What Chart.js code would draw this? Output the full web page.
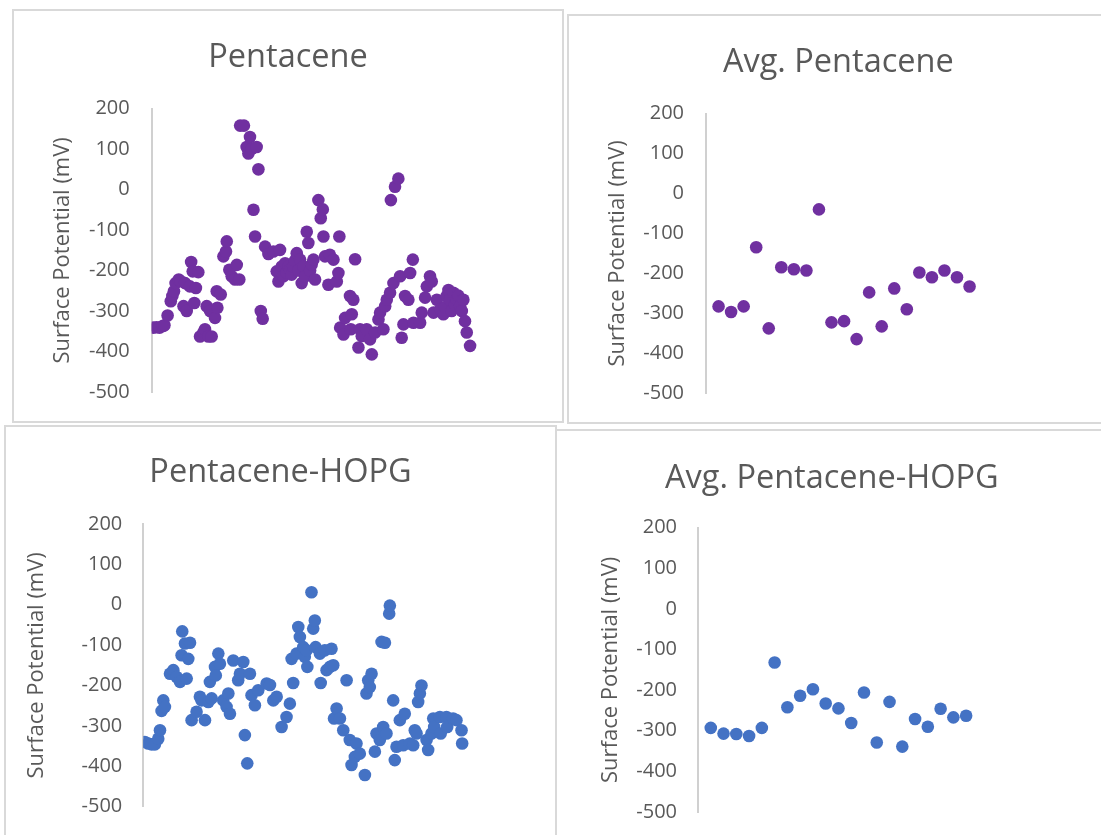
<!DOCTYPE html>
<html>
<head>
<meta charset="utf-8">
<script src="https://cdn.jsdelivr.net/npm/chart.js@4.4.1/dist/chart.umd.min.js"></script>
<style>
    body { margin: 0; background: #fff; width: 1101px; height: 835px; overflow: hidden; position: relative; }
    .panel { position: absolute; border: 2px solid #d9d9d9; background: #fff; }
    .panel canvas { display: block; }
</style>
</head>
<body>
<div class="panel" style="left:12px; top:9px;"><canvas id="c1" width="548" height="410"></canvas></div>
<div class="panel" style="left:567px; top:14px;"><canvas id="c2" width="539" height="406"></canvas></div>
<div class="panel" style="left:4px; top:425px;"><canvas id="c3" width="549" height="410"></canvas></div>
<div class="panel" style="left:555px; top:429px;"><canvas id="c4" width="552" height="410"></canvas></div>
<script>
// Pentacene (全測定点)
const pentX = [1, 3, 5, 7, 8, 10, 12, 13, 14, 15, 17, 18, 20, 21, 22, 24, 24.8, 25.8, 26.8, 27.8, 29.3, 30.4, 32.5, 33.5, 34.6, 35.6, 36.7, 37.7, 39.8, 40.9, 41.3, 43.4, 45.1, 46.7, 47.2, 48.8, 50.3, 52.4, 53.5, 55.1, 55.6, 58.0, 59.7, 60.8, 61.8, 62.9, 64.0, 65.0, 66.0, 67.1, 68.6, 69.8, 71.3, 73.4, 76.5, 78.6, 79.7, 80.7, 81.8, 82.8, 83.9, 84.9, 86.0, 87.0, 88.0, 89.0, 90.1, 91.2, 92.2, 93.3, 94.3, 95.4, 96.4, 97.5, 98.5, 99.6, 100.6, 101.7, 102.7, 104.8, 106.3, 107.6, 108.0, 109.0, 111.1, 112.0, 114.3, 116.4, 117.4, 118.0, 118.5, 120.6, 121.6, 124.7, 125.2, 125.8, 126.8, 127.9, 130.0, 131.0, 132.1, 135.2, 137.3, 138.4, 140.5, 142.6, 143.6, 145.7, 146.8, 147.8, 149.9, 150.4, 152.0, 153.0, 155.1, 156.2, 157.2, 158.3, 159.3, 161.4, 162.5, 164.2, 164.6, 168.8, 169.8, 171.9, 173.0, 175.0, 176.1, 177.2, 179.3, 181.4, 183.4, 184.5, 185.5, 186.6, 187.6, 188.6, 189.7, 190.7, 191.8, 192.8, 193.9, 195.0, 196.0, 197.0, 198.1, 200.2];
const pentY = [-341, -340, -341, -337, -335, -311, -276, -263, -251, -231, -222, -226, -288, -231, -300, -239, -179, -202, -280, -243, -204, -363, -353, -345, -288, -363, -300, -363, -317, -251, -292, -259, -165, -153, -128, -198, -214, -222, -186, -222, 158, 158, 105, 89, 130, 101, -50, -116, 105, 50, -300, -319, -141, -159, -153, -202, -227, -149, -190, -214, -182, -205, -190, -198, -210, -190, -175, -157, -200, -173, -231, -190, -215, -104, -132, -200, -185, -173, -222, -26, -71, -49, -116, -165, -235, -161, -173, -227, -206, -116, -341, -358, -317, -263, -345, -308, -272, -172, -390, -345, -362, -345, -370, -407, -353, -321, -304, -345, -288, -272, -255, -26, -231, 7, 27, -214, -366, -333, -263, -272, -206, -173, -329, -329, -304, -267, -239, -214, -227, -304, -272, -296, -308, -290, -263, -248, -272, -300, -255, -285, -272, -262, -288, -300, -272, -325, -353, -386];

// Pentacene-HOPG (全測定点)
const hopgX = [1.0, 3.1, 5.2, 7.3, 9.4, 10.5, 11.5, 12.6, 13.6, 16.8, 18.9, 21.0, 23.1, 24.1, 24.5, 26.2, 27.3, 28.3, 29.4, 30.4, 33.5, 35.6, 36.7, 38.8, 40.9, 41.9, 43.0, 45.1, 45.6, 47.2, 48.2, 50.3, 52.4, 53.5, 54.5, 56.6, 59.7, 60.8, 62.9, 63.9, 65.4, 67.1, 68.1, 70.2, 72.3, 77.6, 79.7, 81.8, 83.9, 87.0, 90.1, 92.2, 93.3, 94.3, 96.4, 97.5, 98.5, 100.6, 101.6, 102.7, 103.2, 105.8, 106.9, 107.9, 108.4, 111.1, 111.6, 114.2, 115.3, 117.4, 118.4, 119.5, 120.0, 121.6, 123.7, 125.8, 127.9, 129.9, 131.0, 133.1, 134.1, 136.2, 139.4, 140.4, 141.5, 142.5, 143.6, 145.7, 146.7, 148.8, 149.9, 150.9, 152.0, 153.0, 154.7, 155.1, 157.2, 158.2, 159.3, 161.4, 163.5, 164.5, 167.7, 169.8, 170.8, 171.9, 172.9, 174.0, 175.0, 178.2, 179.2, 181.3, 182.4, 183.0, 186.6, 187.1, 190.7, 191.2, 194.9, 197.0, 200.2, 200.6];
const hopgY = [-340, -344, -346, -346, -332, -311, -263, -237, -253, -171, -162, -179, -191, -125, -66, -96, -183, -134, -94, -286, -265, -228, -237, -286, -241, -191, -232, -154, -175, -121, -146, -237, -253, -220, -270, -138, -187, -171, -142, -323, -393, -171, -224, -249, -212, -195, -199, -237, -228, -303, -278, -245, -134, -194, -121, -55, -80, -105, -129, -113, -154, 31, -59, -39, -105, -121, -194, -113, -162, -154, -109, -150, -282, -257, -282, -311, -187, -335, -397, -377, -344, -369, -422, -220, -187, -204, -171, -364, -319, -335, -92, -303, -94, -319, -22, -2, -237, -385, -352, -286, -348, -270, -344, -348, -311, -319, -241, -220, -200, -335, -360, -319, -282, -303, -278, -319, -278, -303, -282, -286, -311, -344];

// 平均値 (21区間)
const avgIdx = [1, 2, 3, 4, 5, 6, 7, 8, 9, 10, 11, 12, 13, 14, 15, 16, 17, 18, 19, 20, 21];
const avgPentY = [-283, -297, -283, -135, -338, -185, -190, -193, -40, -323, -320, -365, -248, -333, -238, -290, -198, -210, -193, -210, -233];
const avgHopgY = [-293, -307, -308, -313, -293, -132, -242, -214, -198, -233, -245, -281, -206, -329, -229, -339, -271, -290, -246, -267, -263];

const yTicks = { min: -500, max: 200, step: 100 };
const FONT = "'Open Sans', 'Noto Sans', sans-serif";
const TEXT = '#595959';
const PURPLE = '#7030A0';
const BLUE = '#4472C4';

function toPoints(xs, ys) {
    return xs.map((x, i) => ({ x: x, y: ys[i] }));
}

function makeChart(id, cfg) {
    const ctx = document.getElementById(id).getContext('2d');
    return new Chart(ctx, {
        type: 'scatter',
        data: {
            datasets: [{
                data: cfg.points,
                backgroundColor: cfg.color,
                borderWidth: 0,
                pointRadius: 6.3,
                pointHoverRadius: 6.3
            }]
        },
        options: {
            responsive: false,
            animation: false,
            events: [],
            layout: {
                autoPadding: false,
                padding: { left: 0, top: 0, right: cfg.padRight, bottom: cfg.padBottom }
            },
            plugins: {
                legend: { display: false },
                tooltip: { enabled: false },
                title: {
                    display: true,
                    text: cfg.title,
                    color: TEXT,
                    font: { family: FONT, size: 32.5, weight: 'normal' },
                    padding: { top: cfg.titleTop, bottom: cfg.titleBottom }
                }
            },
            scales: {
                x: { type: 'linear', display: false, min: 0, max: cfg.xMax },
                y: {
                    min: yTicks.min,
                    max: yTicks.max,
                    ticks: {
                        stepSize: yTicks.step,
                        color: TEXT,
                        font: { family: FONT, size: 20 },
                        padding: cfg.tickPad
                    },
                    grid: { display: false, drawTicks: false },
                    border: { display: true, color: '#d0d0d0', width: 2 },
                    title: {
                        display: true,
                        text: 'Surface Potential (mV)',
                        color: TEXT,
                        font: { family: FONT, size: 22 },
                        padding: { top: cfg.axisTitlePad, bottom: 0 }
                    },
                    afterFit: (scale) => {
                        // 軸幅を固定し、ラベル余白でプロット領域が縮まないようにする
                        scale.width = cfg.axisX;
                        scale.paddingTop = 0;
                        scale.paddingBottom = 0;
                    }
                }
            }
        }
    });
}

document.fonts.load("32px 'Open Sans'").then(() => {
    makeChart('c1', {
        title: 'Pentacene', color: PURPLE, points: toPoints(pentX, pentY),
        xMax: 258, axisX: 137.7, padRight: 0, padBottom: 29,
        titleTop: 27, titleBottom: 31.6, tickPad: 22, axisTitlePad: 35.8
    });
    makeChart('c2', {
        title: 'Avg. Pentacene', color: PURPLE, points: toPoints(avgIdx, avgPentY),
        xMax: 32, axisX: 137, padRight: 0.4, padBottom: 29,
        titleTop: 27.5, titleBottom: 31.1, tickPad: 22, axisTitlePad: 35.8
    });
    makeChart('c3', {
        title: 'Pentacene-HOPG', color: BLUE, points: toPoints(hopgX, hopgY),
        xMax: 259, axisX: 137.3, padRight: 0, padBottom: 30.5,
        titleTop: 26.5, titleBottom: 31.6, tickPad: 21, axisTitlePad: 17.8
    });
    makeChart('c4', {
        title: 'Avg. Pentacene-HOPG', color: BLUE, points: toPoints(avgIdx, avgHopgY),
        xMax: 32, axisX: 141, padRight: 2.4, padBottom: 29,
        titleTop: 28, titleBottom: 29.6, tickPad: 21, axisTitlePad: 40.8
    });
});
</script>
</body>
</html>
